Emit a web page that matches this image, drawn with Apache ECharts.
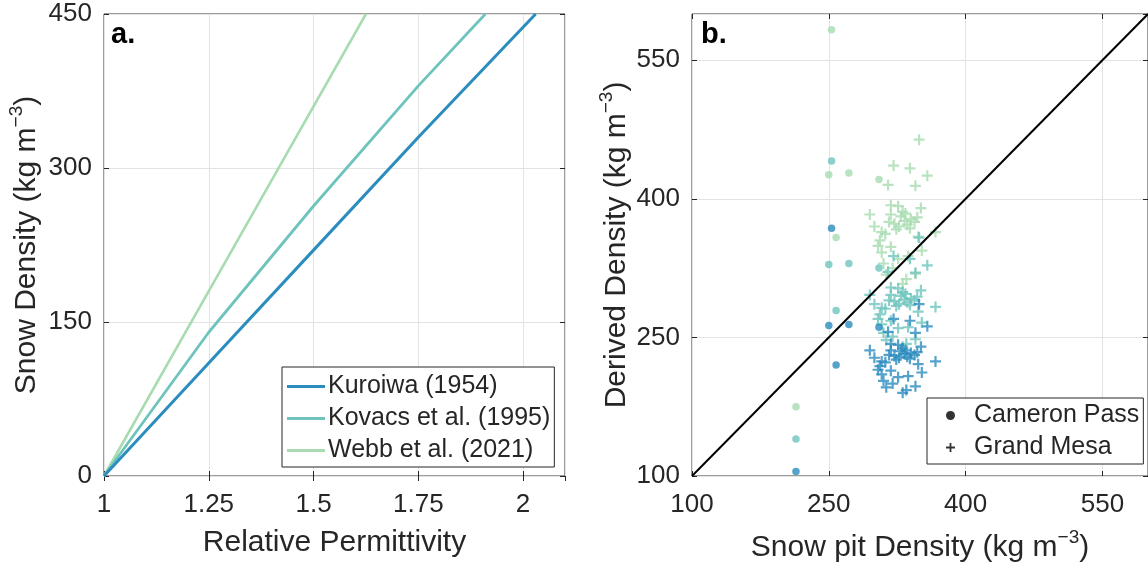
<!DOCTYPE html>
<html>
<head>
<meta charset="utf-8">
<script src="https://cdn.jsdelivr.net/npm/echarts@6/dist/echarts.min.js"></script>
<style>
  html, body { margin: 0; padding: 0; background: #fff; }
  #chart { width: 1148px; height: 571px; }
</style>
</head>
<body>
<div id="chart"></div>
<script>
// ---- Panel a: density vs relative permittivity for three relations ----
const kuroiwaEps = [1, 1.25, 1.5, 1.75, 2.03];
const kuroiwaRho = [0, 110, 220, 330, 450];
const kovacsEps  = [1, 1.25, 1.5, 1.75, 1.91];
const kovacsRho  = [0, 140, 263, 380, 450];
const webbEps    = [1, 1.25, 1.5, 1.625];
const webbRho    = [0, 180, 360, 450];
const lineNames  = ['Kuroiwa (1954)', 'Kovacs et al. (1995)', 'Webb et al. (2021)'];
const epsTicks   = [1, 1.25, 1.5, 1.75, 2];

// ---- Panel b: derived density vs snow pit density ----
const cameronPit     = [214, 250, 253, 258, 272, 305];
const cameronKuroiwa = [105, 263, 368, 220, 264, 261];
const cameronKovacs  = [140, 329, 441, 279, 330, 325];
const cameronWebb    = [175, 426, 583, 358, 428, 421];

const mesaPit     = [349, 321, 339, 358, 315, 345, 295, 318, 326, 351, 367, 308, 326, 337, 318, 306, 348, 308, 331, 313, 345,
                     312, 333, 329, 322, 336, 340, 327, 318, 331, 304, 339, 344, 324, 334, 316, 347, 310, 335, 320, 300, 352];
const mesaKuroiwa = [286, 270, 268, 262, 256, 255, 236, 243, 242, 240, 224, 210, 207, 208, 214, 219, 221, 224, 190, 196, 197,
                     223, 232, 235, 230, 229, 233, 228, 236, 238, 215, 227, 231, 226, 236, 231, 234, 203, 193, 200, 228, 212];
const mesaKovacs  = [358, 338, 335, 328, 321, 320, 296, 304, 303, 301, 283, 264, 260, 261, 268, 275, 278, 282, 240, 247, 248,
                     281, 291, 295, 289, 288, 292, 286, 296, 299, 270, 285, 290, 284, 297, 290, 294, 255, 243, 251, 286, 266];
const mesaWebb    = [464, 436, 433, 425, 415, 414, 383, 393, 392, 390, 364, 342, 335, 338, 348, 355, 359, 364, 308, 318, 319,
                     362, 376, 381, 373, 372, 378, 370, 383, 386, 349, 368, 375, 367, 384, 375, 380, 330, 313, 325, 370, 344];

const oneToOne = [100, 600];
const densityTicks = [100, 250, 400, 550];

const colDark  = '#2b8cbe';
const colTeal  = '#6ec4bd';
const colLight = '#a8dcb0';
const ink = '#262626';
const font = "'Liberation Sans', Arial, Helvetica, sans-serif";
const plus = 'path://M4,0 H6 V4 H10 V6 H6 V10 H4 V6 H0 V4 H4 Z';

const pairs = (xs, ys) => xs.map((x, i) => [x, ys[i]]);

const tickFont = { fontSize: 26, color: ink, fontFamily: font };
const nameRich = {
  n: { fontSize: 30, color: ink, fontFamily: font },
  s: { fontSize: 19, color: ink, fontFamily: font, padding: [0, 0, 20, 0] }
};

function mainX(grid, min, max, interval, ticks, name, gap) {
  return {
    gridIndex: grid, type: 'value', min, max, interval, position: 'bottom',
    axisLine: { show: false },
    axisTick: { show: true, inside: true, length: 5, lineStyle: { color: ink } },
    axisLabel: { ...tickFont, margin: 16, showMaxLabel: false,
      formatter: v => ticks.some(t => Math.abs(t - v) < 1e-9) ? String(v) : '' },
    splitLine: { show: true, lineStyle: { color: '#e3e3e3', width: 1 } },
    name, nameLocation: 'middle', nameGap: gap,
    nameTextStyle: { rich: nameRich, fontSize: 30, color: ink, fontFamily: font }
  };
}
function mainY(grid, min, max, interval, ticks, name, gap) {
  return {
    gridIndex: grid, type: 'value', min, max, interval, position: 'left',
    axisLine: { show: false },
    axisTick: { show: true, inside: true, length: 5, lineStyle: { color: ink } },
    axisLabel: { ...tickFont, margin: 12, showMaxLabel: ticks.indexOf(max) >= 0,
      formatter: v => ticks.some(t => Math.abs(t - v) < 1e-9) ? String(v) : '' },
    splitLine: { show: true, lineStyle: { color: '#e3e3e3', width: 1 } },
    name, nameLocation: 'middle', nameGap: gap,
    nameTextStyle: { rich: nameRich, fontSize: 30, color: ink, fontFamily: font }
  };
}
function mirrorAxis(grid, min, max, interval, position) {
  return {
    gridIndex: grid, type: 'value', min, max, interval, position,
    axisLine: { show: false },
    axisTick: { show: true, inside: true, length: 5, lineStyle: { color: ink } },
    axisLabel: { show: false }, splitLine: { show: false }
  };
}

const option = {
  backgroundColor: '#fff',
  animation: false,
  grid: [
    { left: 104, top: 14, width: 461, height: 462, show: true, borderColor: '#3a3a3a', borderWidth: 1, backgroundColor: 'transparent' },
    { left: 692, top: 14, width: 460, height: 462, show: true, borderColor: '#3a3a3a', borderWidth: 1, backgroundColor: 'transparent' }
  ],
  xAxis: [
    mainX(0, 1, 2.1, 0.25, epsTicks, 'Relative Permittivity', 52),
    mainX(1, 100, 600, 150, densityTicks, '{n|Snow pit Density (kg m}{s|−3}{n|)}', 52),
    mirrorAxis(0, 1, 2.1, 0.25, 'top'),
    mirrorAxis(1, 100, 600, 150, 'top')
  ],
  yAxis: [
    mainY(0, 0, 450, 150, [0, 150, 300, 450], '{n|Snow Density (kg m}{s|−3}{n|)}', 58),
    mainY(1, 100, 600, 150, densityTicks, '{n|Derived Density (kg m}{s|−3}{n|)}', 56),
    mirrorAxis(0, 0, 450, 150, 'right'),
    mirrorAxis(1, 100, 600, 150, 'right')
  ],
  legend: [
    {
      data: lineNames.map(n => ({ name: n, icon: 'rect' })),
      orient: 'vertical', left: 282, top: 367,
      itemWidth: 38, itemHeight: 3, itemGap: 7,
      padding: [7, 4, 4, 5],
      borderColor: ink, borderWidth: 1, backgroundColor: '#fff',
      textStyle: { fontSize: 25, color: ink, fontFamily: font, padding: [0, 0, 0, -2] },
      selectedMode: false
    },
    {
      data: [
        { name: 'Cameron Pass', icon: 'circle', itemStyle: { color: '#000', borderWidth: 0 } },
        { name: 'Grand Mesa', icon: plus, itemStyle: { color: '#000', borderWidth: 0 } }
      ],
      orient: 'vertical', left: 927, top: 398,
      itemWidth: 9, itemHeight: 9, itemGap: 7,
      padding: [5, 4, 4, 19],
      borderColor: ink, borderWidth: 1, backgroundColor: '#fff',
      textStyle: { fontSize: 25, color: ink, fontFamily: font, padding: [0, 0, 0, 14] },
      selectedMode: false
    }
  ],
  graphic: [
    { type: 'text', left: 111, top: 20, style: { text: 'a.', font: "bold 29px 'Liberation Sans', Arial, sans-serif", fill: '#000' } },
    { type: 'text', left: 701, top: 20, style: { text: 'b.', font: "bold 29px 'Liberation Sans', Arial, sans-serif", fill: '#000' } }
  ],
  series: [
    { name: lineNames[2], type: 'line', xAxisIndex: 0, yAxisIndex: 0, data: pairs(webbEps, webbRho),
      symbol: 'none', lineStyle: { color: colLight, width: 2.6 }, itemStyle: { color: colLight }, clip: true },
    { name: lineNames[1], type: 'line', xAxisIndex: 0, yAxisIndex: 0, data: pairs(kovacsEps, kovacsRho),
      symbol: 'none', lineStyle: { color: colTeal, width: 2.8 }, itemStyle: { color: colTeal }, clip: true },
    { name: lineNames[0], type: 'line', xAxisIndex: 0, yAxisIndex: 0, data: pairs(kuroiwaEps, kuroiwaRho),
      symbol: 'none', lineStyle: { color: colDark, width: 3 }, itemStyle: { color: colDark }, clip: true },

    { name: 'Grand Mesa', type: 'scatter', xAxisIndex: 1, yAxisIndex: 1, data: pairs(mesaPit, mesaWebb),
      symbol: plus, symbolSize: 11, itemStyle: { color: colLight } },
    { name: 'Grand Mesa', type: 'scatter', xAxisIndex: 1, yAxisIndex: 1, data: pairs(mesaPit, mesaKovacs),
      symbol: plus, symbolSize: 11, itemStyle: { color: colTeal } },
    { name: 'Grand Mesa', type: 'scatter', xAxisIndex: 1, yAxisIndex: 1, data: pairs(mesaPit, mesaKuroiwa),
      symbol: plus, symbolSize: 11, itemStyle: { color: colDark } },

    { name: 'Cameron Pass', type: 'scatter', xAxisIndex: 1, yAxisIndex: 1, data: pairs(cameronPit, cameronWebb),
      symbol: 'circle', symbolSize: 7.5, itemStyle: { color: colLight } },
    { name: 'Cameron Pass', type: 'scatter', xAxisIndex: 1, yAxisIndex: 1, data: pairs(cameronPit, cameronKovacs),
      symbol: 'circle', symbolSize: 7.5, itemStyle: { color: colTeal } },
    { name: 'Cameron Pass', type: 'scatter', xAxisIndex: 1, yAxisIndex: 1, data: pairs(cameronPit, cameronKuroiwa),
      symbol: 'circle', symbolSize: 7.5, itemStyle: { color: colDark } },

    { name: '1:1', type: 'line', xAxisIndex: 1, yAxisIndex: 1, data: pairs(oneToOne, oneToOne),
      symbol: 'none', lineStyle: { color: '#000', width: 2 }, z: 5, silent: true }
  ]
};

const chart = echarts.init(document.getElementById('chart'), null, { renderer: 'canvas' });
chart.setOption(option);
</script>
</body>
</html>
